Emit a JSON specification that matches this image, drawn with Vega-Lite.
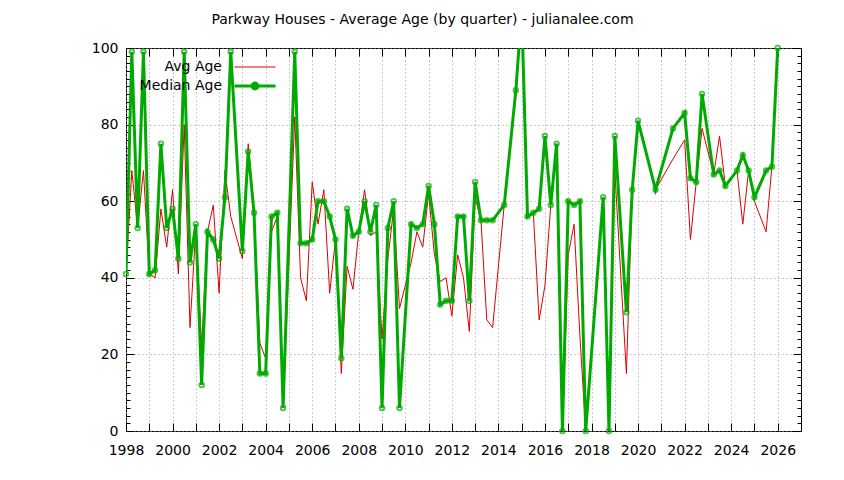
{
  "$schema": "https://vega.github.io/schema/vega-lite/v6.json",
  "width": 675,
  "height": 383,
  "autosize": {"type": "none"},
  "padding": {"left": 126, "top": 48, "right": 43, "bottom": 49},
  "background": "white",
  "title": {
    "text": "Parkway Houses - Average Age (by quarter) - julianalee.com",
    "font": "DejaVu Sans",
    "fontSize": 14,
    "fontWeight": "normal",
    "color": "black",
    "dx": -41,
    "offset": 14
  },
  "data": {
    "values": [
      {"year": 1998.00, "Avg Age": 41, "Median Age": 41},
      {"year": 1998.25, "Avg Age": 68, "Median Age": 99},
      {"year": 1998.50, "Avg Age": 53, "Median Age": 53},
      {"year": 1998.75, "Avg Age": 68, "Median Age": 99},
      {"year": 1999.00, "Avg Age": 41, "Median Age": 41},
      {"year": 1999.25, "Avg Age": 40, "Median Age": 42},
      {"year": 1999.50, "Avg Age": 58, "Median Age": 75},
      {"year": 1999.75, "Avg Age": 48, "Median Age": 53},
      {"year": 2000.00, "Avg Age": 63, "Median Age": 58},
      {"year": 2000.25, "Avg Age": 41, "Median Age": 45},
      {"year": 2000.50, "Avg Age": 80, "Median Age": 99},
      {"year": 2000.75, "Avg Age": 27, "Median Age": 44},
      {"year": 2001.00, "Avg Age": 53, "Median Age": 54},
      {"year": 2001.25, "Avg Age": 22, "Median Age": 12},
      {"year": 2001.50, "Avg Age": 52, "Median Age": 52},
      {"year": 2001.75, "Avg Age": 59, "Median Age": 50},
      {"year": 2002.00, "Avg Age": 36, "Median Age": 45},
      {"year": 2002.25, "Avg Age": 68, "Median Age": 61},
      {"year": 2002.50, "Avg Age": 56, "Median Age": 99},
      {"year": 2003.00, "Avg Age": 45, "Median Age": 47},
      {"year": 2003.25, "Avg Age": 75, "Median Age": 73},
      {"year": 2003.50, "Avg Age": 57, "Median Age": 57},
      {"year": 2003.75, "Avg Age": 23, "Median Age": 15},
      {"year": 2004.00, "Avg Age": 19, "Median Age": 15},
      {"year": 2004.25, "Avg Age": 52, "Median Age": 56},
      {"year": 2004.50, "Avg Age": 56, "Median Age": 57},
      {"year": 2004.75, "Avg Age": 6, "Median Age": 6},
      {"year": 2005.25, "Avg Age": 82, "Median Age": 99},
      {"year": 2005.50, "Avg Age": 40, "Median Age": 49},
      {"year": 2005.75, "Avg Age": 34, "Median Age": 49},
      {"year": 2006.00, "Avg Age": 65, "Median Age": 50},
      {"year": 2006.25, "Avg Age": 54, "Median Age": 60},
      {"year": 2006.50, "Avg Age": 63, "Median Age": 60},
      {"year": 2006.75, "Avg Age": 36, "Median Age": 56},
      {"year": 2007.00, "Avg Age": 50, "Median Age": 50},
      {"year": 2007.25, "Avg Age": 15, "Median Age": 19},
      {"year": 2007.50, "Avg Age": 43, "Median Age": 58},
      {"year": 2007.75, "Avg Age": 37, "Median Age": 51},
      {"year": 2008.00, "Avg Age": 52, "Median Age": 52},
      {"year": 2008.25, "Avg Age": 63, "Median Age": 60},
      {"year": 2008.50, "Avg Age": 51, "Median Age": 52},
      {"year": 2008.75, "Avg Age": 52, "Median Age": 59},
      {"year": 2009.00, "Avg Age": 24, "Median Age": 6},
      {"year": 2009.25, "Avg Age": 45, "Median Age": 53},
      {"year": 2009.50, "Avg Age": 58, "Median Age": 60},
      {"year": 2009.75, "Avg Age": 32, "Median Age": 6},
      {"year": 2010.25, "Avg Age": 44, "Median Age": 54},
      {"year": 2010.50, "Avg Age": 52, "Median Age": 53},
      {"year": 2010.75, "Avg Age": 48, "Median Age": 54},
      {"year": 2011.00, "Avg Age": 62, "Median Age": 64},
      {"year": 2011.25, "Avg Age": 46, "Median Age": 54},
      {"year": 2011.50, "Avg Age": 39, "Median Age": 33},
      {"year": 2011.75, "Avg Age": 40, "Median Age": 34},
      {"year": 2012.00, "Avg Age": 30, "Median Age": 34},
      {"year": 2012.25, "Avg Age": 46, "Median Age": 56},
      {"year": 2012.50, "Avg Age": 40, "Median Age": 56},
      {"year": 2012.75, "Avg Age": 26, "Median Age": 34},
      {"year": 2013.00, "Avg Age": 61, "Median Age": 65},
      {"year": 2013.25, "Avg Age": 55, "Median Age": 55},
      {"year": 2013.50, "Avg Age": 29, "Median Age": 55},
      {"year": 2013.75, "Avg Age": 27, "Median Age": 55},
      {"year": 2014.25, "Avg Age": 59, "Median Age": 59},
      {"year": 2014.75, "Avg Age": 89, "Median Age": 89},
      {"year": 2015.00, "Avg Age": 110, "Median Age": 110},
      {"year": 2015.25, "Avg Age": 56, "Median Age": 56},
      {"year": 2015.50, "Avg Age": 57, "Median Age": 57},
      {"year": 2015.75, "Avg Age": 29, "Median Age": 58},
      {"year": 2016.00, "Avg Age": 38, "Median Age": 77},
      {"year": 2016.25, "Avg Age": 59, "Median Age": 59},
      {"year": 2016.50, "Avg Age": 75, "Median Age": 75},
      {"year": 2016.75, "Avg Age": 0, "Median Age": 0},
      {"year": 2017.00, "Avg Age": 46, "Median Age": 60},
      {"year": 2017.25, "Avg Age": 54, "Median Age": 59},
      {"year": 2017.50, "Avg Age": 25, "Median Age": 60},
      {"year": 2017.75, "Avg Age": 0, "Median Age": 0},
      {"year": 2018.50, "Avg Age": 61, "Median Age": 61},
      {"year": 2018.75, "Avg Age": 0, "Median Age": 0},
      {"year": 2019.00, "Avg Age": 68, "Median Age": 77},
      {"year": 2019.50, "Avg Age": 15, "Median Age": 31},
      {"year": 2019.75, "Avg Age": 63, "Median Age": 63},
      {"year": 2020.00, "Avg Age": 81, "Median Age": 81},
      {"year": 2020.75, "Avg Age": 63, "Median Age": 63},
      {"year": 2021.50, "Avg Age": 71, "Median Age": 79},
      {"year": 2022.00, "Avg Age": 76, "Median Age": 83},
      {"year": 2022.25, "Avg Age": 50, "Median Age": 66},
      {"year": 2022.50, "Avg Age": 65, "Median Age": 65},
      {"year": 2022.75, "Avg Age": 79, "Median Age": 88},
      {"year": 2023.25, "Avg Age": 67, "Median Age": 67},
      {"year": 2023.50, "Avg Age": 77, "Median Age": 68},
      {"year": 2023.75, "Avg Age": 64, "Median Age": 64},
      {"year": 2024.25, "Avg Age": 68, "Median Age": 68},
      {"year": 2024.50, "Avg Age": 54, "Median Age": 72},
      {"year": 2024.75, "Avg Age": 68, "Median Age": 68},
      {"year": 2025.00, "Avg Age": 60, "Median Age": 61},
      {"year": 2025.50, "Avg Age": 52, "Median Age": 68},
      {"year": 2025.75, "Avg Age": 69, "Median Age": 69},
      {"year": 2026.00, "Avg Age": 100, "Median Age": 100}
    ]
  },
  "transform": [{"fold": ["Avg Age", "Median Age"], "as": ["series", "age"]}],
  "layer": [
    {
      "mark": {"type": "line", "clip": true},
      "encoding": {
        "x": {
          "field": "year",
          "type": "quantitative",
          "scale": {"domain": [1998, 2027], "nice": false, "zero": false},
          "axis": {
            "orient": "bottom",
            "title": null,
            "format": "d",
            "values": [1998, 1999, 2000, 2001, 2002, 2003, 2004, 2005, 2006, 2007, 2008, 2009, 2010, 2011, 2012, 2013, 2014, 2015, 2016, 2017, 2018, 2019, 2020, 2021, 2022, 2023, 2024, 2025, 2026],
            "labelExpr": "datum.value % 2 === 0 ? datum.label : ''",
            "labelOverlap": false,
            "labelFlush": false,
            "tickSize": -8,
            "labelPadding": 20,
            "labelBaseline": "top",
            "grid": true
          }
        },
        "y": {
          "field": "age",
          "type": "quantitative",
          "scale": {"domain": [0, 100], "nice": false},
          "axis": {
            "orient": "left",
            "title": null,
            "values": [0, 2, 4, 6, 8, 10, 12, 14, 16, 18, 20, 22, 24, 26, 28, 30, 32, 34, 36, 38, 40, 42, 44, 46, 48, 50, 52, 54, 56, 58, 60, 62, 64, 66, 68, 70, 72, 74, 76, 78, 80, 82, 84, 86, 88, 90, 92, 94, 96, 98, 100],
            "labelExpr": "datum.value % 20 === 0 ? datum.label : ''",
            "labelOverlap": false,
            "labelFlush": false,
            "tickSize": {"condition": {"test": "datum.value % 20 === 0", "value": -8}, "value": -4},
            "labelPadding": 16,
            "grid": true,
            "gridOpacity": {"condition": {"test": "datum.value % 20 === 0", "value": 1}, "value": 0}
          }
        },
        "color": {
          "field": "series",
          "type": "nominal",
          "scale": {"domain": ["Avg Age", "Median Age"], "range": ["#dd0000", "#00aa00"]},
          "legend": {
            "title": null,
            "orient": "none",
            "legendX": 122,
            "legendY": 12,
            "padding": 0,
            "rowPadding": 3,
            "labelFont": "DejaVu Sans",
            "labelFontSize": 14,
            "labelColor": "black",
            "labelAlign": "right",
            "labelOffset": -40,
            "symbolSize": 100,
            "symbolType": "M-4.1,0L4.1,0",
            "encode": {
              "symbols": {
                "update": {
                  "shape": {"signal": "datum.value === 'Median Age' ? 'M-4.1,0L4.1,0M0.58,0A0.58,0.58 0 1 1 -0.58,0A0.58,0.58 0 1 1 0.58,0' : 'M-4.1,0L4.1,0'"},
                  "strokeWidth": {"signal": "datum.value === 'Median Age' ? 3 : 1"},
                  "fill": {"value": "transparent"}
                }
              }
            }
          }
        },
        "strokeWidth": {"condition": {"test": "datum.series === 'Median Age'", "value": 3}, "value": 1}
      }
    },
    {
      "transform": [{"filter": "datum.series === 'Median Age' && datum.age <= 100"}],
      "mark": {"type": "point", "shape": "circle", "filled": false, "size": 22, "strokeWidth": 1.8, "color": "#00aa00"},
      "encoding": {
        "x": {
          "field": "year",
          "type": "quantitative",
          "axis": {
            "orient": "top",
            "title": null,
            "labels": false,
            "values": [1998, 1999, 2000, 2001, 2002, 2003, 2004, 2005, 2006, 2007, 2008, 2009, 2010, 2011, 2012, 2013, 2014, 2015, 2016, 2017, 2018, 2019, 2020, 2021, 2022, 2023, 2024, 2025, 2026],
            "tickSize": -8,
            "grid": false
          }
        },
        "y": {
          "field": "age",
          "type": "quantitative",
          "axis": {
            "orient": "right",
            "title": null,
            "labels": false,
            "values": [0, 2, 4, 6, 8, 10, 12, 14, 16, 18, 20, 22, 24, 26, 28, 30, 32, 34, 36, 38, 40, 42, 44, 46, 48, 50, 52, 54, 56, 58, 60, 62, 64, 66, 68, 70, 72, 74, 76, 78, 80, 82, 84, 86, 88, 90, 92, 94, 96, 98, 100],
            "tickSize": {"condition": {"test": "datum.value % 20 === 0", "value": -8}, "value": -4},
            "grid": false
          }
        }
      }
    }
  ],
  "resolve": {"axis": {"x": "independent", "y": "independent"}},
  "config": {
    "font": "DejaVu Sans",
    "view": {"stroke": "black", "strokeWidth": 1},
    "axis": {
      "domain": false,
      "labelFont": "DejaVu Sans",
      "labelFontSize": 14,
      "labelColor": "black",
      "tickColor": "black",
      "tickWidth": 1,
      "gridColor": "#999999",
      "gridDash": [1, 3],
      "gridWidth": 1
    }
  }
}
